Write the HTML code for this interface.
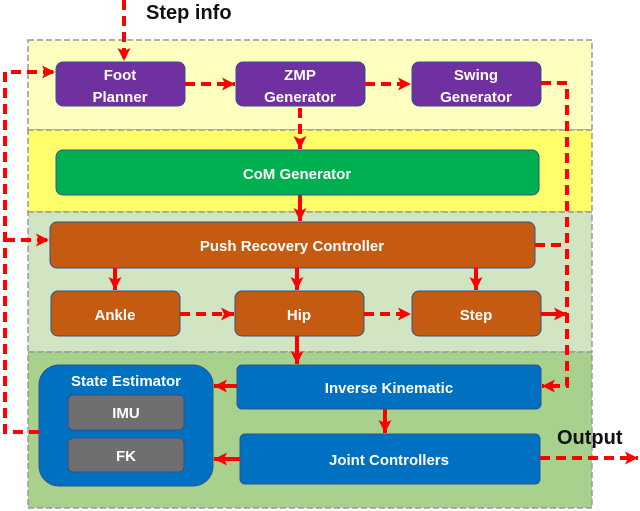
<!DOCTYPE html>
<html><head><style>
body{margin:0;background:#fff;}
svg{display:block;font-family:"Liberation Sans",sans-serif;}
.t{fill:#fff;font-weight:bold;font-size:15px;text-anchor:middle;}
</style></head><body>
<svg width="640" height="511" viewBox="0 0 640 511">
<defs>
<marker id="a" markerWidth="13" markerHeight="13" refX="13" refY="6.5" orient="auto" markerUnits="userSpaceOnUse"><path d="M0,0 L13,6.5 L0,13 L3,6.5z" fill="#f00"/></marker>
</defs>
<rect x="28" y="40" width="564" height="90" fill="#ffffc0" stroke="#999" stroke-dasharray="6,3" stroke-width="1.5"/>
<rect x="28" y="130" width="564" height="82" fill="#ffff6a" stroke="#999" stroke-dasharray="6,3" stroke-width="1.5"/>
<rect x="28" y="212" width="564" height="140" fill="#d2e5c2" stroke="#999" stroke-dasharray="6,3" stroke-width="1.5"/>
<rect x="28" y="352" width="564" height="156" fill="#a9d18e" stroke="#999" stroke-dasharray="6,3" stroke-width="1.5"/>
<g stroke="#2f528f" stroke-width="1">
<rect x="56" y="62" width="129" height="44" rx="7" fill="#7030a0"/>
<rect x="236" y="62" width="129" height="44" rx="7" fill="#7030a0"/>
<rect x="412" y="62" width="129" height="44" rx="7" fill="#7030a0"/>
<rect x="56" y="150" width="483" height="45" rx="7" fill="#00b050"/>
<rect x="50" y="222" width="485" height="46" rx="7" fill="#c55a11"/>
<rect x="51" y="291" width="129" height="45" rx="7" fill="#c55a11"/>
<rect x="235" y="291" width="129" height="45" rx="7" fill="#c55a11"/>
<rect x="412" y="291" width="129" height="45" rx="7" fill="#c55a11"/>
<rect x="39" y="365" width="174" height="121" rx="20" fill="#0070c0"/>
<rect x="68" y="395" width="116" height="35" rx="5" fill="#6f6f6f"/>
<rect x="68" y="438" width="116" height="34" rx="5" fill="#6f6f6f"/>
<rect x="237" y="365" width="304" height="44" rx="5" fill="#0070c0"/>
<rect x="240" y="434" width="300" height="50" rx="5" fill="#0070c0"/>
</g>
<text class="t" x="120" y="80">Foot</text><text class="t" x="120" y="102">Planner</text>
<text class="t" x="300" y="80">ZMP</text><text class="t" x="300" y="102">Generator</text>
<text class="t" x="476" y="80">Swing</text><text class="t" x="476" y="102">Generator</text>
<text class="t" x="297" y="179">CoM Generator</text>
<text class="t" x="292" y="251">Push Recovery Controller</text>
<text class="t" x="115" y="320">Ankle</text>
<text class="t" x="299" y="320">Hip</text>
<text class="t" x="476" y="320">Step</text>
<text class="t" x="126" y="386">State Estimator</text>
<text class="t" x="126" y="418">IMU</text>
<text class="t" x="126" y="461">FK</text>
<text class="t" x="389" y="393">Inverse Kinematic</text>
<text class="t" x="389" y="465">Joint Controllers</text>
<text x="146" y="19" font-weight="bold" font-size="20" fill="#111">Step info</text>
<text x="557" y="444" font-weight="bold" font-size="20" fill="#111">Output</text>
<g stroke="#f00" stroke-width="4" fill="none" stroke-dasharray="10,6">
<path d="M124,0 V61" marker-end="url(#a)"/>
<path d="M185,84 H235" marker-end="url(#a)"/>
<path d="M365,84 H411" marker-end="url(#a)"/>
<path d="M541,83 H567 V386 H542" marker-end="url(#a)"/>
<path d="M300,108 V149" marker-end="url(#a)"/>
<path d="M535,245 H567"/>
<path d="M180,314 H234" marker-end="url(#a)"/>
<path d="M364,314 H411" marker-end="url(#a)"/>
<path d="M541,314 H567" stroke-dasharray="none" marker-end="url(#a)"/>
<path d="M39,432 H5 V72 H55" marker-end="url(#a)"/>
<path d="M5,240 H49" marker-end="url(#a)"/>
<path d="M540,458 H638" marker-end="url(#a)"/>
</g>
<g stroke="#f00" stroke-width="4" fill="none">
<path d="M300,195 V221" marker-end="url(#a)"/>
<path d="M115,268 V290" marker-end="url(#a)"/>
<path d="M297,268 V290" marker-end="url(#a)"/>
<path d="M476,268 V290" marker-end="url(#a)"/>
<path d="M297,336 V364" marker-end="url(#a)"/>
<path d="M385,409 V433" marker-end="url(#a)"/>
<path d="M237,386 H214" marker-end="url(#a)"/>
<path d="M240,459 H214" marker-end="url(#a)"/>
</g>
</svg>
</body></html>
